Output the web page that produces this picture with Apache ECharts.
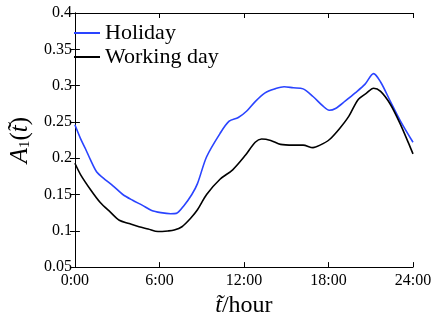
<!DOCTYPE html>
<html>
<head>
<meta charset="utf-8">
<script src="https://cdn.jsdelivr.net/npm/echarts@6/dist/echarts.min.js"></script>
<style>html,body{margin:0;padding:0;background:#fff}#c{width:436px;height:323px}</style>
</head>
<body>
<div id="c"></div>
<script>
// Holiday curve (hour, value)
var holidayHours = [0, 0.4, 0.75, 1.1, 1.55, 2.0, 2.7, 3.4, 4.1, 4.8, 5.45, 6.1, 6.8, 7.2, 7.75, 8.3, 8.7, 9.35, 10.3, 10.95, 11.6, 12.2, 12.8, 13.5, 14.2, 14.85, 15.5, 16.2, 16.9, 17.6, 18.05, 18.5, 19.2, 19.9, 20.6, 21.2, 21.7, 22.4, 23.1, 24];
var holidayValues = [0.246, 0.227, 0.213, 0.198, 0.181, 0.173, 0.162, 0.150, 0.142, 0.135, 0.128, 0.125, 0.1235, 0.124, 0.135, 0.150, 0.165, 0.202, 0.234, 0.251, 0.256, 0.265, 0.278, 0.290, 0.2955, 0.2985, 0.297, 0.2955, 0.285, 0.272, 0.266, 0.2685, 0.279, 0.290, 0.302, 0.3165, 0.305, 0.278, 0.2515, 0.222];
// Working day curve (hour, value)
var workingHours = [0, 0.4, 1.1, 1.8, 2.5, 3.15, 3.85, 4.55, 5.2, 5.9, 6.6, 7.05, 7.6, 8.2, 8.7, 9.35, 10.3, 11.2, 12.1, 12.8, 13.25, 13.9, 14.6, 15.5, 16.2, 16.9, 17.4, 18.05, 18.75, 19.45, 20.1, 20.7, 21.2, 21.7, 22.4, 23.1, 23.7, 24];
var workingValues = [0.193, 0.1775, 0.157, 0.139, 0.126, 0.1146, 0.110, 0.1056, 0.1025, 0.099, 0.0998, 0.101, 0.1056, 0.117, 0.129, 0.150, 0.171, 0.184, 0.204, 0.222, 0.2265, 0.2245, 0.219, 0.218, 0.218, 0.2146, 0.218, 0.2254, 0.240, 0.258, 0.2806, 0.2896, 0.2963, 0.292, 0.274, 0.247, 0.220, 0.206];
var seriesNames = ['Holiday', 'Working day'];
var xTicks = [0, 6, 12, 18, 24];

function pairs(xs, ys) { return xs.map(function (x, i) { return [x, ys[i]]; }); }

var serif = 'Liberation Serif';
var chart = echarts.init(document.getElementById('c'));
var axisLine = { show: true, lineStyle: { color: '#000', width: 1 } };
var tick = { show: true, inside: true, length: 5, lineStyle: { color: '#000' } };
chart.setOption({
  animation: false,
  grid: { left: 64, top: 13, right: 23, bottom: 50, containLabel: false },
  legend: {
    left: 69, top: 17, orient: 'vertical', itemGap: 2,
    icon: 'rect', itemWidth: 26, itemHeight: 2,
    textStyle: { fontFamily: serif, fontSize: 22, color: '#000' },
    data: seriesNames
  },
  xAxis: [{
    type: 'value', min: 0, max: 24, interval: 6, position: 'bottom',
    axisLine: axisLine, axisTick: tick, splitLine: { show: false },
    axisLabel: { fontFamily: serif, fontSize: 16, color: '#000', margin: 6,
      formatter: function (v) { return v + ':00'; } },
    name: '{it|t\u0303}{n|/hour}', nameLocation: 'middle', nameGap: 17,
    nameTextStyle: { rich: {
      it: { fontFamily: serif, fontStyle: 'italic', fontSize: 24, color: '#000' },
      n: { fontFamily: serif, fontSize: 24, color: '#000' } } }
  }, {
    type: 'value', min: 0, max: 24, interval: 6, position: 'top',
    axisLine: axisLine, axisTick: tick, axisLabel: { show: false }, splitLine: { show: false }
  }],
  yAxis: [{
    type: 'value', min: 0.05, max: 0.4, interval: 0.05, position: 'left',
    axisLine: axisLine, axisTick: tick, splitLine: { show: false },
    axisLabel: { fontFamily: serif, fontSize: 16, color: '#000', margin: 3,
      formatter: function (v) { return String(+v.toFixed(2)); } },
    name: '{it|A}{sub|1}{n|(}{it|t\u0303}{n|)}', nameLocation: 'middle', nameGap: 40,
    nameTextStyle: { rich: {
      it: { fontFamily: serif, fontStyle: 'italic', fontSize: 25, color: '#000', verticalAlign: 'bottom', lineHeight: 26 },
      sub: { fontFamily: serif, fontSize: 15, color: '#000', verticalAlign: 'bottom', lineHeight: 22 },
      n: { fontFamily: serif, fontSize: 25, color: '#000', verticalAlign: 'bottom', lineHeight: 26 } } }
  }, {
    type: 'value', min: 0.05, max: 0.4, interval: 0.05, position: 'right',
    axisLine: axisLine, axisTick: tick, axisLabel: { show: false }, splitLine: { show: false }
  }],
  series: [{
    name: seriesNames[0], type: 'line', showSymbol: false, symbol: 'none', smooth: 0.3,
    lineStyle: { color: '#2a44ff', width: 1.6 }, itemStyle: { color: '#2a44ff' },
    data: pairs(holidayHours, holidayValues)
  }, {
    name: seriesNames[1], type: 'line', showSymbol: false, symbol: 'none', smooth: 0.3,
    lineStyle: { color: '#000', width: 1.6 }, itemStyle: { color: '#000' },
    data: pairs(workingHours, workingValues)
  }]
});
</script>
</body>
</html>
